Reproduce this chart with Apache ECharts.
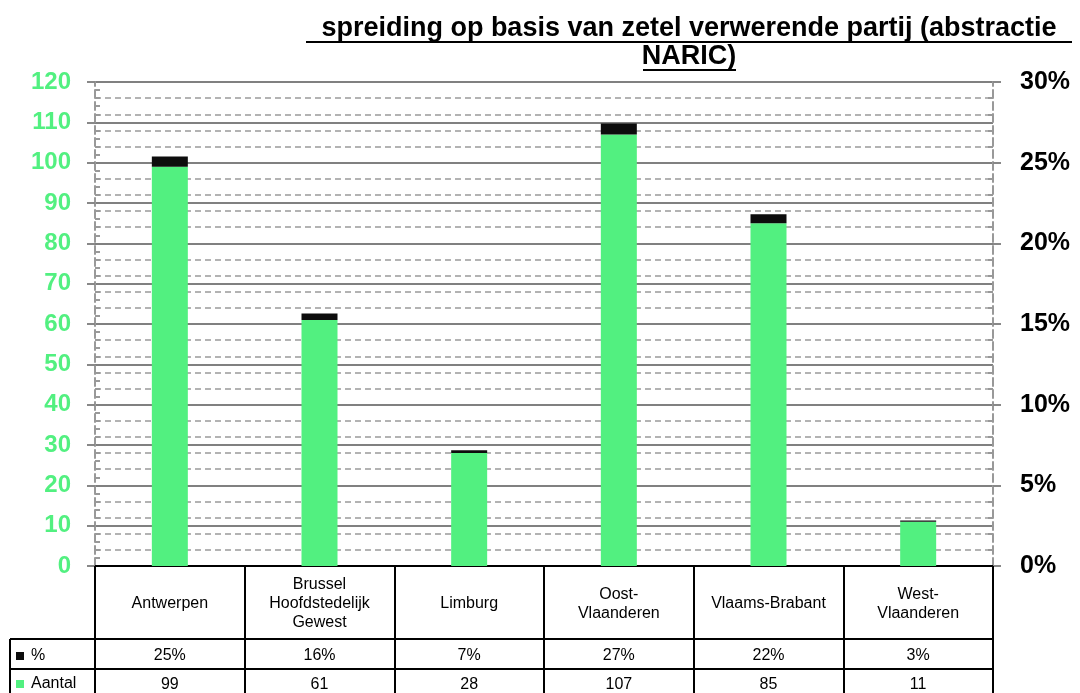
<!DOCTYPE html>
<html>
<head>
<meta charset="utf-8">
<script src="https://cdn.jsdelivr.net/npm/echarts@6/dist/echarts.min.js"></script>
<style>
  html, body { margin: 0; padding: 0; background: #fff; }
  #chart { width: 1080px; height: 693px; }
</style>
</head>
<body>
<div id="chart"></div>
<script>
// data
const categories = ['Antwerpen', 'Brussel\nHoofdstedelijk\nGewest', 'Limburg', 'Oost-\nVlaanderen', 'Vlaams-Brabant', 'West-\nVlaanderen'];
const aantal = [99, 61, 28, 107, 85, 11];
const pctLabels = ['25%', '16%', '7%', '27%', '22%', '3%'];
// height of the black % caps as they appear on the left axis
const pctCap = [2.5, 1.6, 0.7, 2.7, 2.2, 0.3];
const leftTicks = { min: 0, max: 120, interval: 10 };
const rightTicks = { min: 0, max: 0.3, interval: 0.05 };

const GREEN = '#52f080';
const FONT = 'Arial, "Liberation Sans", sans-serif';
const gridLeft = 95, gridRight = 87, gridTop = 82, gridBottom = 127;
const W = 1080, H = 693;
const plotRight = W - gridRight;

const chart = echarts.init(document.getElementById('chart'));

const extras = [
    // row separators, running into the legend column
    { type: 'line', shape: { x1: 10, y1: 639, x2: plotRight, y2: 639 }, style: { stroke: '#000', lineWidth: 2 } },
    { type: 'line', shape: { x1: 10, y1: 669, x2: plotRight, y2: 669 }, style: { stroke: '#000', lineWidth: 2 } },
    { type: 'line', shape: { x1: 10, y1: 639, x2: 10, y2: H }, style: { stroke: '#000', lineWidth: 2 } },
    {
        type: 'text', x: 689, y: 15,
        style: {
            text: 'spreiding op basis van zetel verwerende partij (abstractie\nNARIC)',
            align: 'center', font: 'bold 27px ' + FONT, fill: '#000', lineHeight: 28
        }
    },
    // title underline
    { type: 'line', shape: { x1: 306, y1: 42, x2: 1072, y2: 42 }, style: { stroke: '#000', lineWidth: 2 } },
    { type: 'line', shape: { x1: 643, y1: 70, x2: 736, y2: 70 }, style: { stroke: '#000', lineWidth: 2 } }
];

const option = {
    animation: false,
    textStyle: { fontFamily: FONT },
    grid: { left: gridLeft, right: gridRight, top: gridTop, bottom: gridBottom },
    legend: {
        data: ['%', 'Aantal'],
        orient: 'vertical',
        left: 16, top: 648,
        padding: 0,
        icon: 'rect',
        itemWidth: 8, itemHeight: 8, itemGap: 12,
        textStyle: { fontSize: 16, color: '#000', fontFamily: FONT, padding: [0, 0, 0, 2] }
    },
    xAxis: [
        {
            type: 'category',
            data: categories,
            axisLine: { show: true, lineStyle: { color: '#000', width: 2 } },
            axisTick: { show: true, length: 127, lineStyle: { color: '#000', width: 2 } },
            axisLabel: { margin: 38, verticalAlign: 'middle', fontSize: 16, color: '#000', lineHeight: 19, interval: 0 },
            splitLine: { show: false }
        },
        {
            type: 'category', data: categories, position: 'bottom', offset: 90,
            axisLine: { show: false }, axisTick: { show: false },
            axisLabel: { margin: 0, verticalAlign: 'middle', fontSize: 16, color: '#000', interval: 0,
                formatter: (v, i) => pctLabels[i] }
        },
        {
            type: 'category', data: categories, position: 'bottom', offset: 119,
            axisLine: { show: false }, axisTick: { show: false },
            axisLabel: { margin: 0, verticalAlign: 'middle', fontSize: 16, color: '#000', interval: 0,
                formatter: (v, i) => String(aantal[i]) }
        }
    ],
    yAxis: [
        {
            type: 'value', position: 'left',
            min: leftTicks.min, max: leftTicks.max, interval: leftTicks.interval,
            axisLine: { show: true, lineStyle: { color: '#999', type: 'dashed', width: 2 } },
            axisTick: { show: true, length: 8, lineStyle: { color: '#888', width: 2 } },
            minorTick: { show: true, splitNumber: 5, length: -5, lineStyle: { color: '#999', width: 2 } },
            axisLabel: { margin: 24, fontSize: 24, fontWeight: 'bold', fontFamily: FONT, color: GREEN },
            splitLine: { show: true, lineStyle: { color: '#808080', width: 2 } }
        },
        {
            type: 'value', position: 'right',
            min: rightTicks.min, max: rightTicks.max, interval: rightTicks.interval,
            axisLine: { show: true, lineStyle: { color: '#999', type: 'dashed', width: 2 } },
            axisTick: { show: true, length: 8, lineStyle: { color: '#888', width: 2 } },
            minorTick: { show: true, splitNumber: 5, length: -5, lineStyle: { color: '#999', width: 2 } },
            axisLabel: { margin: 27, fontSize: 25, fontWeight: 'bold', fontFamily: FONT, color: '#000',
                formatter: v => Math.round(v * 100) + '%' },
            splitLine: { show: false },
            minorSplitLine: { show: true, lineStyle: { color: '#b3b3b3', type: [6, 4], width: 2 } }
        }
    ],
    series: [
        {
            name: 'Aantal', type: 'bar', stack: 'total', barWidth: 36,
            itemStyle: { color: GREEN }, data: aantal
        },
        {
            name: '%', type: 'bar', stack: 'total', barWidth: 36,
            itemStyle: { color: '#0d0d0d' }, data: pctCap
        }
    ],
    graphic: extras
};

chart.setOption(option);
</script>
</body>
</html>
